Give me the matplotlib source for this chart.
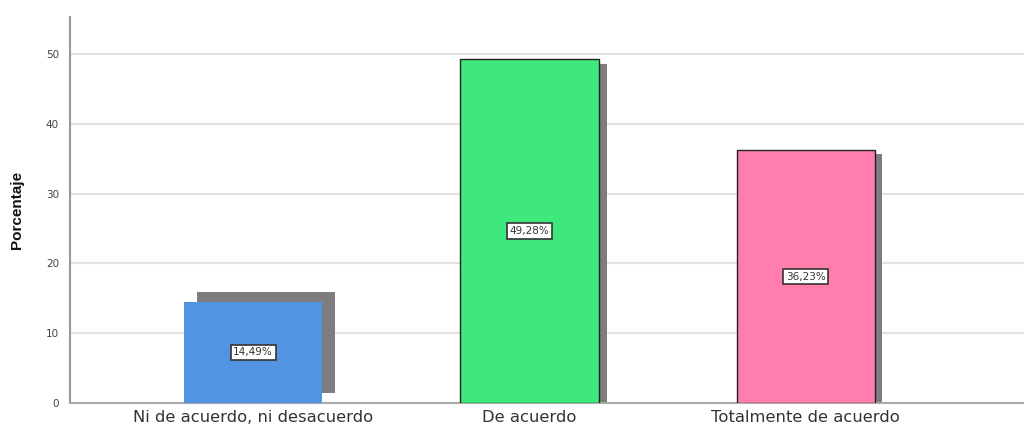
import matplotlib
matplotlib.use("Agg")
import matplotlib.pyplot as plt
from matplotlib.patches import Rectangle

categories = ["Ni de acuerdo, ni desacuerdo", "De acuerdo", "Totalmente de acuerdo"]
percentages = [14.49, 49.28, 36.23]
value_labels = ["14,49%", "49,28%", "36,23%"]
y_ticks = [0, 10, 20, 30, 40, 50]

bar_colors = ["#5294e2", "#3fe87c", "#ff7eae"]
bar_edges = ["none", "#222222", "#222222"]
# drop-shadow offsets (x in category units, y in percent)
shadow_dx = [0.045, 0.030, 0.026]
shadow_dy = [1.45, -0.7, -0.6]

plt.rcParams["font.family"] = ["DejaVu Sans"]

fig = plt.figure(figsize=(10.24, 4.25), dpi=100)
ax = fig.add_axes([70 / 1024, 22 / 425, 1 - 70 / 1024, 386 / 425])

width = 0.5
x = list(range(len(categories)))

for xi, v, dx, dy in zip(x, percentages, shadow_dx, shadow_dy):
    ax.add_patch(Rectangle((xi - width / 2 + dx, dy), width, v, facecolor="#7d7d7d",
                           edgecolor="none", zorder=2))

ax.bar(x, percentages, width=width, color=bar_colors, edgecolor=bar_edges,
       linewidth=1.0, zorder=3)

for xi, v, lab in zip(x, percentages, value_labels):
    ax.text(xi, v / 2, lab, ha="center", va="center", fontsize=7.5, color="#333333",
            zorder=5,
            bbox=dict(boxstyle="square,pad=0.25", facecolor="white",
                      edgecolor="#333333", linewidth=1.2))

ax.set_xlim(-0.663, 2.79)
ax.set_ylim(0, 55.3)
ax.set_yticks(y_ticks)
ax.set_xticks(x)
ax.set_xticklabels(categories, fontsize=11.8, color="#333333")
ax.tick_params(axis="y", labelsize=7.5, labelcolor="#444444", length=0, pad=8)
ax.tick_params(axis="x", length=0, pad=5)

ax.grid(axis="y", color="#e2e2e2", linewidth=1.5, zorder=0)
ax.set_axisbelow(True)

for side in ("top", "right"):
    ax.spines[side].set_visible(False)
ax.spines["left"].set_color("#999999")
ax.spines["left"].set_linewidth(1.5)
ax.spines["bottom"].set_color("#aaaaaa")
ax.spines["bottom"].set_linewidth(1.5)

ax.set_ylabel("Porcentaje", fontsize=11, fontweight="bold", color="#111111",
              family=["Liberation Sans Narrow", "Liberation Sans", "DejaVu Sans"],
              labelpad=16)

fig.savefig("out.png", dpi=100, facecolor="white")
